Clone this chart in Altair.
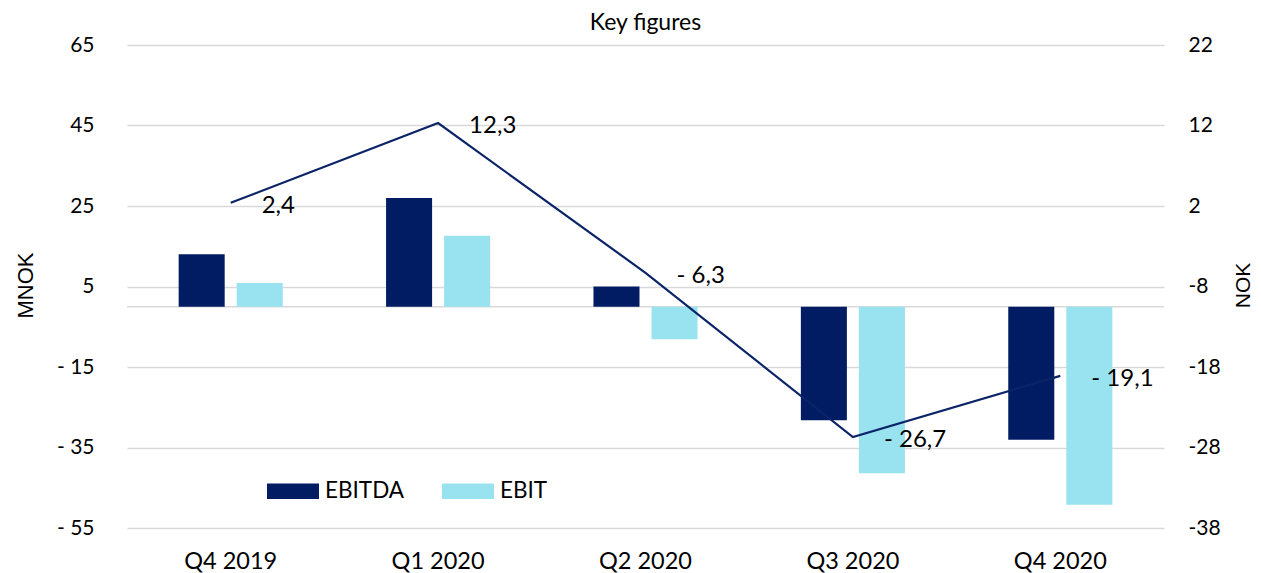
import altair as alt
import pandas as pd

quarters = ["Q4 2019", "Q1 2020", "Q2 2020", "Q3 2020", "Q4 2020"]
ebitda = [13.0, 27.0, 5.0, -28.2, -33.1]
ebit = [5.9, 17.6, -8.1, -41.4, -49.2]
eps = [2.4, 12.3, -6.3, -26.7, -19.1]
eps_labels = ["2,4", "12,3", "- 6,3", "- 26,7", "- 19,1"]
series = ["EBITDA", "EBIT"]
colors = ["#021c63", "#99e2ef"]
left_ticks = [-55, -35, -15, 5, 25, 45, 65]
right_ticks = [-38, -28, -18, -8, 2, 12, 22]

bars_df = pd.DataFrame(
    [{"q": q, "series": "EBITDA", "v": v} for q, v in zip(quarters, ebitda)]
    + [{"q": q, "series": "EBIT", "v": v} for q, v in zip(quarters, ebit)]
)
line_df = pd.DataFrame({"q": quarters, "eps": eps, "lab": eps_labels})

FONT = "Lato"
TFONT = "Liberation Sans"
x_enc = alt.X("q:N", sort=quarters, title=None,
              scale=alt.Scale(paddingInner=0, paddingOuter=0),
              axis=alt.Axis(labelAngle=0, domain=False, ticks=False, labelFontSize=23.5,
                            labelFont=FONT, labelColor="#000", labelPadding=21))

bars = alt.Chart(bars_df).mark_bar().encode(
    x=x_enc,
    xOffset=alt.XOffset("series:N", sort=series,
                        scale=alt.Scale(paddingInner=0.207, paddingOuter=0.89)),
    y=alt.Y("v:Q", title="MNOK",
            scale=alt.Scale(domain=[-55, 65], nice=False, zero=False),
            axis=alt.Axis(values=left_ticks, domain=False, ticks=False, grid=True,
                          gridColor="#d9d9d9", gridWidth=1.5,
                          labelExpr="datum.value < 0 ? '- ' + abs(datum.value) : '' + datum.value",
                          labelFontSize=21, labelFont=FONT, labelColor="#000", labelPadding=33,
                          titleFont=TFONT, titleFontSize=22, titleFontWeight="normal",
                          titleColor="#000", titleAngle=-90, titleX=-102, titleY=240,
                          titleAlign="center", titleBaseline="middle")),
    color=alt.Color("series:N", sort=series,
                    scale=alt.Scale(domain=series, range=colors),
                    legend=alt.Legend(title=None, orient="none", legendX=140, legendY=420,
                                      direction="horizontal", labelFontSize=22.5, labelFont=FONT,
                                      labelColor="#000", symbolType="M-1,-0.3H1V0.3H-1Z",
                                      symbolSize=2704, symbolStrokeWidth=0, columnPadding=37,
                                      labelOffset=6, padding=0)),
)

zero = alt.Chart(pd.DataFrame({"z": [0]})).mark_rule(color="#d9d9d9", strokeWidth=1.5).encode(
    y=alt.Y("z:Q")
)

line = alt.Chart(line_df).mark_line(color="#0b2468", strokeWidth=2.2).encode(
    x=alt.X("q:N", sort=quarters),
    y=alt.Y("eps:Q", title="NOK",
            scale=alt.Scale(domain=[-38, 22], nice=False, zero=False),
            axis=alt.Axis(orient="right", values=right_ticks, domain=False, ticks=False,
                          grid=False,
                          labelExpr="datum.value < 0 ? '-' + abs(datum.value) : '' + datum.value",
                          labelFontSize=21, labelFont=FONT, labelColor="#000", labelPadding=24,
                          titleFont=TFONT, titleFontSize=21, titleFontWeight="normal",
                          titleColor="#000", titleAngle=-90, titleX=79, titleY=240,
                          titleAlign="center", titleBaseline="middle")),
)

labels = alt.Chart(line_df).mark_text(align="left", baseline="middle", dx=31, dy=3,
                                      fontSize=24, font=FONT, color="#000").encode(
    x=alt.X("q:N", sort=quarters),
    y=alt.Y("eps:Q"),
    text="lab:N",
)

chart = alt.layer(
    alt.layer(zero, bars),
    alt.layer(line, labels),
).resolve_scale(y="independent").properties(
    width=1037, height=483,
    title=alt.Title("Key figures", fontSize=23, font=FONT, fontWeight="normal",
                    color="#000", anchor="middle", offset=-1),
    autosize=alt.AutoSizeParams(type="none"),
    padding={"left": 119, "top": 37, "right": 89, "bottom": 45},
).configure_view(stroke=None)

chart.save("out.html", embed_options={"renderer": "svg", "actions": False})
